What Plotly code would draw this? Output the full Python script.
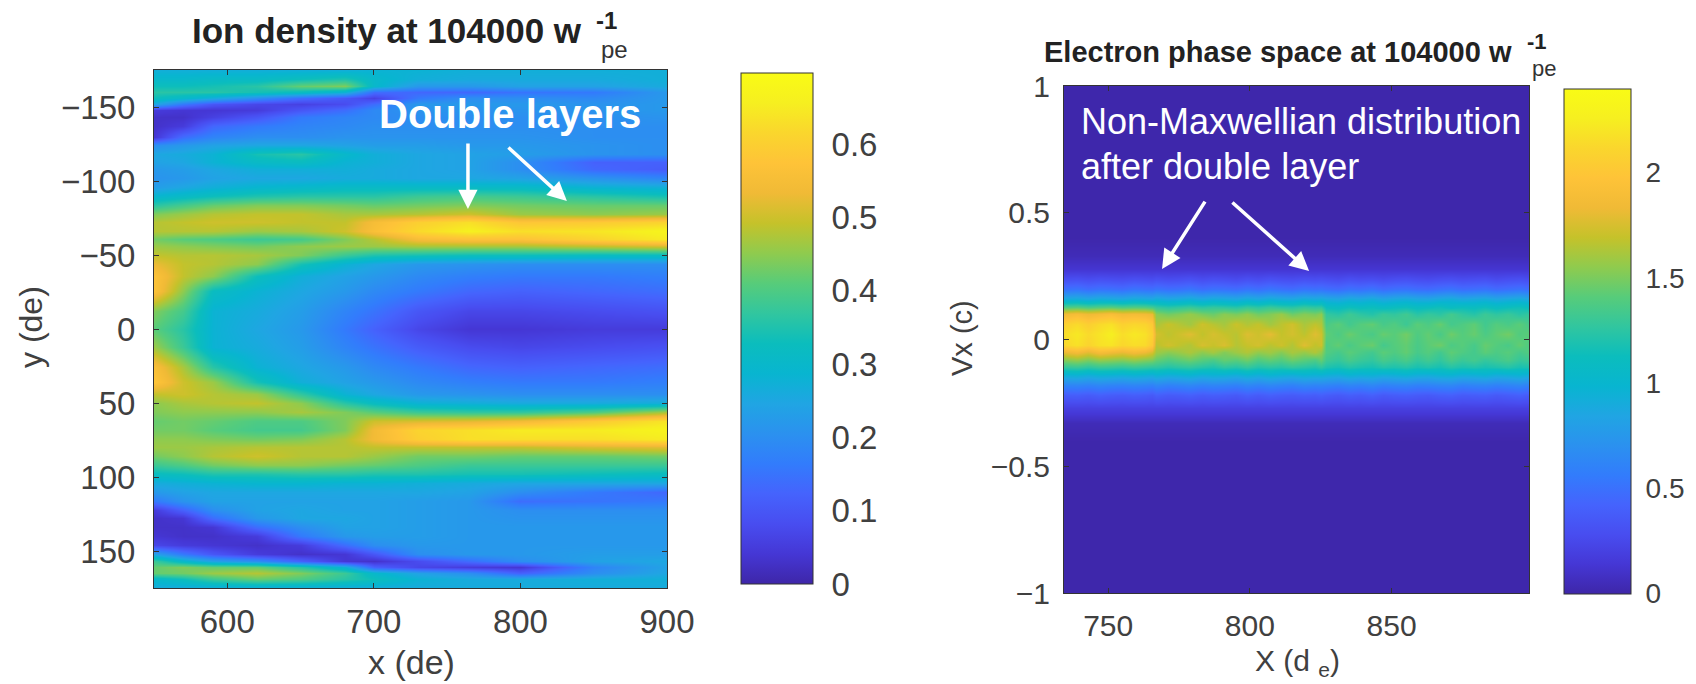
import plotly.graph_objects as go

W, H = 1696, 684
PAGE_MARGIN = 8

PARULA = [
    (0.2422,0.1504,0.6603),(0.2706,0.2147,0.8364),(0.2813,0.3006,0.9414),(0.2699,0.3892,0.9906),
    (0.1963,0.4847,0.9892),(0.1687,0.5703,0.9359),(0.1248,0.6459,0.8883),(0.0297,0.7082,0.8163),
    (0.0433,0.7411,0.7394),(0.1938,0.7758,0.6251),(0.3406,0.8008,0.4789),(0.5616,0.7942,0.3045),
    (0.7738,0.7598,0.1646),(0.9393,0.7288,0.2100),(0.9970,0.7659,0.2199),(0.9786,0.8386,0.1766),
    (0.9628,0.9373,0.1265),(0.9769,0.9839,0.0805),
]
COLORSCALE = [[i/(len(PARULA)-1), "rgb(%d,%d,%d)" % tuple(round(c*255) for c in p)] for i, p in enumerate(PARULA)]

ion_x = [550,570,590,620,650,680,700,730,765,800,850,900]
ion_y = [-175,-169,-164,-160,-156,-152,-148,-143,-137,-130,-124,-118,-113,-108,-102,-96,-90,-84,-78,-72,-66,-61,-56,-50,-44,-36,-26,-12,0,
         12,26,36,44,50,56,62,68,74,80,86,92,98,104,110,116,122,128,134,140,146,152,157,161,165,169,175]
ion_density = [
 [.27,.27,.27,.27,.27,.27,.28,.28,.27,.27,.27,.27],
 [.30,.30,.31,.31,.33,.35,.30,.27,.26,.26,.26,.27],
 [.33,.33,.34,.36,.42,.44,.30,.22,.22,.24,.24,.26],
 [.36,.36,.36,.34,.32,.28,.14,.13,.13,.15,.16,.22],
 [.33,.30,.26,.20,.14,.10,.06,.16,.20,.20,.19,.22],
 [.25,.16,.10,.07,.06,.08,.14,.22,.22,.22,.21,.22],
 [.05,.04,.04,.05,.10,.14,.19,.21,.21,.21,.21,.22],
 [.03,.03,.06,.10,.16,.18,.19,.20,.20,.20,.20,.21],
 [.03,.05,.13,.16,.18,.19,.20,.20,.20,.20,.20,.20],
 [.04,.14,.18,.20,.20,.21,.21,.21,.21,.21,.20,.20],
 [.20,.22,.24,.25,.25,.24,.23,.23,.22,.22,.21,.20],
 [.25,.26,.28,.34,.36,.30,.27,.25,.24,.23,.21,.20],
 [.24,.25,.28,.31,.32,.28,.27,.25,.24,.20,.12,.12],
 [.22,.23,.25,.27,.27,.27,.26,.25,.24,.20,.13,.11],
 [.21,.22,.24,.25,.25,.26,.26,.25,.25,.24,.21,.18],
 [.23,.25,.27,.29,.30,.31,.31,.31,.31,.31,.28,.27],
 [.29,.31,.33,.35,.36,.36,.36,.38,.39,.38,.36,.34],
 [.36,.39,.42,.44,.44,.43,.42,.43,.44,.43,.42,.42],
 [.44,.46,.48,.49,.49,.47,.47,.48,.50,.46,.45,.46],
 [.48,.49,.50,.50,.49,.49,.55,.60,.63,.58,.59,.61],
 [.48,.48,.48,.46,.47,.50,.56,.62,.66,.63,.64,.67],
 [.43,.41,.40,.38,.39,.44,.48,.55,.57,.57,.61,.65],
 [.46,.45,.44,.43,.45,.46,.46,.47,.47,.47,.49,.51],
 [.49,.48,.48,.47,.44,.38,.35,.34,.33,.33,.32,.32],
 [.53,.49,.48,.45,.34,.28,.25,.22,.21,.20,.20,.20],
 [.57,.49,.45,.33,.27,.24,.22,.19,.17,.16,.16,.17],
 [.57,.45,.32,.28,.25,.22,.19,.16,.13,.12,.13,.14],
 [.44,.39,.28,.26,.23,.18,.15,.10,.07,.07,.08,.09],
 [.41,.36,.28,.25,.22,.16,.12,.07,.04,.04,.05,.05],
 [.46,.38,.28,.26,.23,.18,.15,.11,.08,.07,.08,.09],
 [.56,.47,.36,.28,.25,.22,.19,.16,.13,.12,.13,.14],
 [.58,.50,.46,.34,.27,.24,.22,.19,.17,.16,.16,.17],
 [.49,.50,.48,.46,.37,.28,.25,.22,.21,.20,.20,.20],
 [.45,.47,.48,.49,.45,.36,.32,.28,.27,.26,.26,.27],
 [.44,.45,.45,.45,.47,.44,.41,.38,.37,.37,.40,.47],
 [.42,.43,.42,.40,.40,.44,.50,.51,.52,.54,.59,.64],
 [.43,.43,.41,.39,.39,.44,.54,.61,.63,.65,.65,.67],
 [.45,.45,.44,.43,.44,.48,.54,.60,.63,.63,.63,.65],
 [.46,.46,.47,.48,.48,.48,.49,.49,.49,.49,.51,.52],
 [.43,.45,.48,.50,.48,.48,.46,.43,.43,.42,.42,.43],
 [.38,.40,.43,.45,.45,.43,.42,.40,.38,.38,.38,.38],
 [.32,.33,.35,.35,.36,.36,.35,.35,.34,.34,.33,.32],
 [.26,.27,.28,.29,.29,.28,.28,.27,.26,.25,.25,.25],
 [.22,.24,.25,.25,.25,.25,.25,.25,.24,.20,.16,.13],
 [.16,.21,.24,.24,.24,.24,.24,.23,.22,.14,.15,.16],
 [.05,.12,.20,.24,.25,.24,.24,.23,.22,.20,.20,.20],
 [.03,.04,.14,.22,.25,.25,.24,.23,.22,.21,.21,.21],
 [.03,.03,.04,.14,.20,.24,.24,.23,.22,.22,.22,.22],
 [.04,.03,.03,.05,.16,.22,.23,.23,.22,.22,.22,.22],
 [.07,.05,.04,.03,.05,.14,.20,.22,.22,.22,.22,.22],
 [.24,.16,.10,.05,.03,.04,.10,.20,.22,.22,.23,.23],
 [.38,.30,.24,.20,.12,.04,.03,.08,.14,.20,.24,.25],
 [.42,.44,.42,.42,.36,.28,.12,.07,.05,.04,.18,.24],
 [.42,.43,.46,.48,.44,.38,.30,.24,.20,.12,.20,.25],
 [.30,.33,.38,.42,.40,.36,.33,.28,.26,.26,.27,.27],
 [.26,.26,.26,.26,.26,.26,.26,.26,.26,.26,.26,.26],
]

phase_x = [734.4,739,743,747,751,755,759,763,765.5,
           767,771,775,779,783,787,791,795,799,803,807,811,815,819,823,825,
           827,831,835,839,843,847,851,855,859,863,867,871,875,879,883,887,891,895,898.5]
phase_y = [1,.4,.33,.28,.24,.2,.16,.13,.10,.06,.02,-.02,-.05,-.08,-.11,-.14,-.18,-.22,-.27,-.33,-.4,-1]
phase_density = [
 [.01]*44,
 [.01]*44,
 [.05]*44,
 [.13]*44,
 [.29,.30,.28,.30,.29,.28,.30,.29,.28,.30,.28,.29,.31,.28,.30,.29,.27,.30,.28,.31,.29,.28,.30,.29,.30,.29,.27,.30,.28,.29,.27,.29,.30,.28,.27,.29,.30,.28,.29,.30,.27,.29,.30,.28],
 [.50,.52,.48,.51,.50,.48,.52,.50,.49,.52,.49,.50,.53,.48,.51,.50,.48,.52,.49,.53,.50,.48,.52,.50,.51,.49,.47,.51,.49,.52,.47,.50,.51,.48,.47,.50,.52,.48,.49,.51,.47,.49,.51,.48],
 [.90,.92,.88,.92,.90,.88,.92,.90,.88,.93,.88,.90,.93,.88,.92,.90,.87,.92,.88,.93,.90,.88,.93,.90,.92,.89,.86,.91,.88,.92,.86,.89,.91,.87,.86,.90,.92,.87,.89,.91,.86,.89,.91,.87],
 [1.38,1.40,1.36,1.39,1.41,1.37,1.39,1.38,1.34,1.28,1.24,1.27,1.30,1.25,1.28,1.26,1.23,1.29,1.25,1.30,1.26,1.24,1.29,1.26,1.27,1.12,1.10,1.14,1.11,1.13,1.09,1.12,1.14,1.10,1.12,1.15,1.10,1.13,1.11,1.14,1.10,1.13,1.15,1.11],
 [1.85,1.90,1.84,1.88,1.92,1.86,1.88,1.86,1.82,1.54,1.48,1.52,1.57,1.50,1.46,1.54,1.50,1.56,1.48,1.52,1.58,1.47,1.53,1.50,1.55,1.28,1.24,1.32,1.26,1.22,1.30,1.27,1.33,1.24,1.29,1.25,1.34,1.27,1.23,1.31,1.26,1.30,1.24,1.28],
 [2.08,2.14,2.06,2.14,2.18,2.08,2.12,2.10,2.02,1.62,1.70,1.65,1.60,1.72,1.66,1.61,1.71,1.64,1.69,1.60,1.67,1.73,1.62,1.68,1.64,1.36,1.42,1.33,1.40,1.44,1.35,1.39,1.31,1.42,1.37,1.45,1.34,1.38,1.43,1.33,1.40,1.36,1.42,1.35],
 [2.16,2.22,2.14,2.20,2.26,2.16,2.22,2.18,2.08,1.74,1.67,1.72,1.78,1.68,1.75,1.70,1.66,1.77,1.72,1.80,1.69,1.74,1.67,1.78,1.72,1.43,1.37,1.46,1.40,1.36,1.45,1.41,1.48,1.38,1.44,1.36,1.47,1.40,1.45,1.37,1.43,1.48,1.39,1.42],
 [2.12,2.18,2.10,2.18,2.20,2.12,2.16,2.14,2.02,1.66,1.73,1.68,1.64,1.75,1.70,1.76,1.65,1.70,1.74,1.66,1.72,1.64,1.78,1.68,1.72,1.38,1.44,1.36,1.42,1.46,1.34,1.40,1.44,1.36,1.42,1.47,1.37,1.41,1.35,1.45,1.40,1.36,1.44,1.38],
 [1.82,1.88,1.80,1.90,1.86,1.82,1.88,1.84,1.76,1.60,1.54,1.58,1.63,1.55,1.61,1.52,1.59,1.64,1.56,1.60,1.53,1.62,1.57,1.64,1.56,1.39,1.34,1.42,1.37,1.33,1.42,1.38,1.44,1.35,1.40,1.33,1.43,1.38,1.34,1.42,1.37,1.41,1.35,1.39],
 [1.52,1.56,1.50,1.56,1.54,1.52,1.56,1.52,1.50,1.44,1.38,1.42,1.46,1.40,1.36,1.44,1.41,1.47,1.38,1.43,1.39,1.46,1.41,1.37,1.44,1.32,1.28,1.35,1.30,1.27,1.35,1.31,1.36,1.28,1.33,1.27,1.36,1.30,1.34,1.28,1.32,1.36,1.29,1.31],
 [1.28,1.30,1.26,1.30,1.29,1.27,1.30,1.28,1.26,1.26,1.22,1.25,1.27,1.23,1.20,1.26,1.23,1.28,1.22,1.25,1.23,1.27,1.24,1.21,1.26,1.20,1.17,1.22,1.19,1.17,1.22,1.20,1.23,1.18,1.21,1.17,1.23,1.19,1.21,1.18,1.20,1.23,1.18,1.20],
 [.94,.96,.92,.96,.95,.93,.96,.94,.92,.96,.92,.94,.97,.92,.95,.94,.91,.96,.92,.97,.94,.92,.96,.94,.95,.93,.91,.96,.93,.95,.91,.93,.96,.92,.91,.95,.96,.92,.93,.96,.91,.93,.96,.92],
 [.62,.63,.61,.64,.62,.61,.63,.62,.60,.64,.60,.62,.64,.61,.63,.62,.60,.64,.61,.64,.62,.60,.64,.62,.63,.62,.60,.63,.61,.64,.60,.62,.63,.60,.61,.63,.64,.60,.62,.63,.60,.62,.64,.60],
 [.38,.39,.37,.40,.38,.37,.39,.38,.36,.40,.37,.38,.40,.37,.39,.38,.36,.40,.37,.40,.38,.37,.39,.38,.40,.38,.36,.39,.37,.40,.36,.38,.39,.37,.36,.39,.40,.37,.38,.39,.36,.38,.40,.37],
 [.20]*44,
 [.05]*44,
 [.01]*44,
 [.01]*44,
]

ion_xticks = [600,700,800,900]
ion_yticks = [-150,-100,-50,0,50,100,150]
ion_cbar_ticks = [0,.1,.2,.3,.4,.5,.6]
ion_cbar_labels = ["0","0.1","0.2","0.3","0.4","0.5","0.6"]
phase_xticks = [750,800,850]
phase_yticks = [-1,-.5,0,.5,1]
phase_ylabels = ["\u22121","\u22120.5","0","0.5","1"]
phase_cbar_ticks = [0,.5,1,1.5,2]
phase_cbar_labels = ["0","0.5","1","1.5","2"]

FONT = "Liberation Sans"
TICK = "#404040"

def px(v): return (v - PAGE_MARGIN) / W
def py(v): return 1 - (v - PAGE_MARGIN) / H

fig = go.Figure()
fig.add_trace(go.Heatmap(
    x=ion_x, y=ion_y, z=ion_density, zsmooth="best", zmin=0, zmax=0.697, colorscale=COLORSCALE,
    hoverinfo="skip", xaxis="x", yaxis="y",
    colorbar=dict(x=px(741), xanchor="left", y=py(73), yanchor="top", len=511/H, lenmode="fraction",
                  thickness=72, thicknessmode="pixels", xpad=0, ypad=0, outlinecolor="#333", outlinewidth=1,
                  tickvals=ion_cbar_ticks, ticktext=ion_cbar_labels, ticks="outside", ticklen=12, tickcolor="rgba(0,0,0,0)",
                  tickfont=dict(family=FONT, size=33, color=TICK)),
))
fig.add_trace(go.Heatmap(
    x=phase_x, y=phase_y, z=phase_density, zsmooth="best", zmin=0, zmax=2.4, colorscale=COLORSCALE,
    hoverinfo="skip", xaxis="x2", yaxis="y2",
    colorbar=dict(x=px(1564), xanchor="left", y=py(88.5), yanchor="top", len=504.5/H, lenmode="fraction",
                  thickness=67, thicknessmode="pixels", xpad=0, ypad=0, outlinecolor="#333", outlinewidth=1,
                  tickvals=phase_cbar_ticks, ticktext=phase_cbar_labels, ticks="outside", ticklen=9, tickcolor="rgba(0,0,0,0)",
                  tickfont=dict(family=FONT, size=28, color=TICK)),
))

axis_common = dict(showgrid=False, zeroline=False, showline=True, linecolor="#333", linewidth=1, mirror="ticks",
                   ticks="inside", ticklen=5, tickcolor="#333")
fig.update_layout(
    width=W, height=H, margin=dict(l=0, r=0, t=0, b=0, autoexpand=False), paper_bgcolor="white", plot_bgcolor="white", showlegend=False,
    xaxis=dict(axis_common, domain=[px(154), px(667)], range=[550,900], tickvals=ion_xticks, anchor="y", ticklabelstandoff=4,
               tickfont=dict(family=FONT, size=33, color=TICK)),
    yaxis=dict(axis_common, domain=[py(588), py(70)], range=[175,-175], tickvals=ion_yticks, anchor="x", ticklabelstandoff=11,
               tickfont=dict(family=FONT, size=33, color=TICK)),
    xaxis2=dict(axis_common, domain=[px(1064), px(1529)], range=[734.4,898.5], tickvals=phase_xticks, anchor="y2", ticklabelstandoff=6,
                tickfont=dict(family=FONT, size=30, color=TICK)),
    yaxis2=dict(axis_common, domain=[py(593), py(86)], range=[-1,1], tickvals=phase_yticks, ticktext=phase_ylabels, anchor="x2", ticklabelstandoff=7,
                tickfont=dict(family=FONT, size=30, color=TICK)),
)

def label(x, y, text, size, color=TICK, bold=False, rot=0, anchor="center"):
    fig.add_annotation(xref="paper", yref="paper", x=px(x), y=py(y), text=("<b>%s</b>" % text) if bold else text,
                       showarrow=False, xanchor=anchor, yanchor="middle", textangle=rot,
                       font=dict(family=FONT, size=size, color=color))

label(190, 30, "Ion density at 104000 w", 35, "#222", True, anchor="left")
label(606, 20, "-1", 24, "#222", True)
label(614, 49, "pe", 24, "#333")
label(1042, 52, "Electron phase space at 104000 w", 29, "#222", True, anchor="left")
label(1537, 41, "-1", 22, "#222", True)
label(1544, 68, "pe", 22, "#333")
label(411, 662, "x (de)", 34)
label(31, 327, "y (de)", 32, rot=-90)
label(962, 338, "Vx (c)", 29, rot=-90)
label(1297, 662, "X (d <sub>e</sub>)", 30)
label(377, 114, "Double layers", 40, "white", True, anchor="left")
label(1079, 122, "Non-Maxwellian distribution", 36, "white", anchor="left")
label(1079, 166, "after double layer", 36, "white", anchor="left")

def arrow(x0, y0, x1, y1, xa, ya):
    fig.add_annotation(xref=xa, yref=ya, axref=xa, ayref=ya, x=x1, y=y1, ax=x0, ay=y0, text="", showarrow=True,
                       arrowhead=2, arrowsize=1.1, arrowwidth=3.5, arrowcolor="white")

arrow(764.2,-126.4,764.2,-81.1,"x","y")
arrow(790.8,-123.6,831.7,-86.5,"x","y")
arrow(784.5,.55,769,.278,"x2","y2")
arrow(793.3,.546,820.9,.27,"x2","y2")

fig.write_html("out.html")
